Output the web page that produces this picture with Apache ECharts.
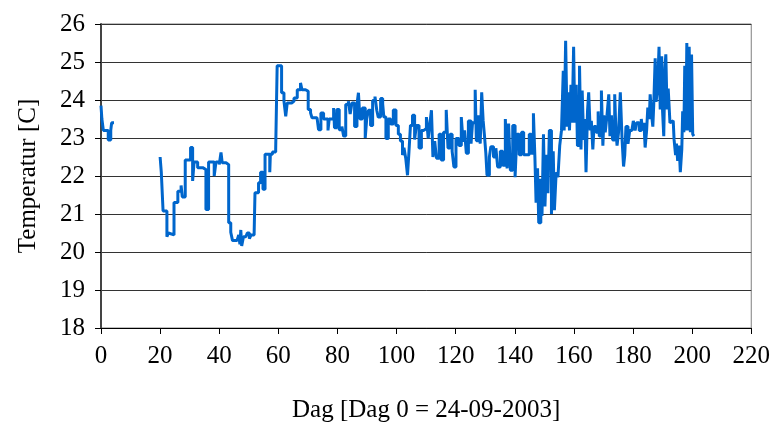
<!DOCTYPE html>
<html>
<head>
<meta charset="utf-8">
<script src="https://cdn.jsdelivr.net/npm/echarts@6/dist/echarts.min.js"></script>
<style>
  html, body { margin: 0; padding: 0; background: #fff; }
  #chart { width: 773px; height: 428px; }
</style>
</head>
<body>
<div id="chart"></div>
<script>
// dag sinds 24-09-2003, null in temp = geen meting
const dag = [
  0, 0.3, 0.8, 2.45, 3.3, 3.6, 4.4,
  4.45,
  20.0, 20.4, 21.0, 22.3, 22.8, 23.3, 24.7, 26.0, 27.1, 27.5, 28.5, 30.3,
  31.0, 31.5, 32.7, 34.4, 35.5, 36.4, 38.3, 38.9, 40.0, 40.6, 41.0, 42.3,
  43.2, 43.9, 44.5, 46.0, 46.6, 47.0, 47.3, 47.6, 48.2, 49.0, 49.5, 50.2,
  50.8, 51.8, 52.1, 53.3, 54.0, 54.8, 55.5, 57.1, 57.3, 58.0, 59.1, 59.6,
  61.1, 61.9, 62.5, 63.0, 64.5, 65.3, 66.4, 67.5, 68.0, 69.2, 70.1, 70.9,
  71.4, 73.1, 73.6, 74.4, 75.3, 76.8, 77.2, 78.7, 79.0, 79.8, 80.6, 81.5,
  82.1, 82.8, 83.7, 84.3, 84.9, 85.8, 86.6, 87.1, 87.6, 88.4, 89.4, 89.9,
  90.5, 91.2, 91.9, 92.7, 93.3, 93.8, 94.6, 95.3, 95.7, 96.4, 97.2, 98.0,
  98.9, 99.8, 100.6, 101.3, 102.0, 102.5, 103.1, 103.7, 104.2, 104.7, 105.4, 106.1,
  106.7, 107.6, 108.4, 109.2, 110.1, 110.7, 111.2, 111.8, 112.3, 112.9, 113.5, 114.4,
  115.1, 115.9, 116.8, 117.4, 118.1, 118.8, 119.4, 120.1, 121.1, 121.9, 122.5, 123.0,
  123.6, 124.3, 125.2, 125.7, 126.6, 127.0, 127.7, 128.3, 128.8, 129.3, 129.7, 130.2,
  130.6, 131.4, 131.9, 132.8, 133.6, 134.2, 135.1, 135.9, 136.8, 137.4, 137.9, 138.5,
  139.3, 140.1, 140.7, 141.5, 142.3, 143.0, 144.9, 145.6, 146.3, 146.8, 147.2, 147.7,
  148.1, 148.8, 149.2, 149.7, 150.2, 150.8, 151.2, 151.7, 152.4, 153.0, 153.4, 154.0,
  154.6, 155.2, 155.8, 156.4, 156.7, 157.2, 157.7, 158.1, 158.5, 159.0, 159.4, 159.9,
  160.3, 160.8, 161.2, 161.9, 162.4, 162.8, 163.3, 163.7, 164.1, 164.6, 165.0, 165.5,
  165.9, 166.4, 166.8, 167.5, 168.2, 168.6, 169.3, 169.8, 170.2, 170.6, 171.2, 171.8,
  172.2, 172.7, 173.1, 173.8, 174.2, 174.6, 175.1, 175.7, 176.3, 176.8, 177.2, 177.6,
  178.3, 178.9, 179.6, 180.1, 180.7, 181.2, 182.1, 182.8, 183.2, 183.7, 184.1, 184.6,
  185.0, 185.5, 185.8, 186.3, 186.7, 187.0, 187.5, 187.8, 188.3, 188.8, 189.2, 189.7,
  190.0, 190.4, 190.8, 191.1, 191.5, 191.9, 192.5, 193.0, 193.6, 193.9, 194.4, 194.7,
  195.1, 195.6, 196.0, 196.5, 196.8, 197.2, 197.5, 197.9, 198.2, 198.6, 199.0, 199.4,
  199.8, 200.2, 200.6
];
const temp = [
  23.85, 23.5, 23.2, 22.95, 23.2, 23.4, 23.4,
  null,
  22.5, 22.1, 21.08, 20.4, 20.5, 20.45, 21.3, 21.6, 21.75, 21.45, 22.42, 22.75,
  21.87, 22.37, 22.22, 22.17, 21.12, 22.37, 22.0, 22.37, 22.3, 22.62, 22.35, 22.3,
  20.77, 20.52, 20.3, 20.3, 20.45, 20.2, 20.58, 20.16, 20.4, 20.35, 20.5, 20.35,
  20.45, 20.4, 21.56, 21.82, 22.1, 21.65, 22.57, 22.1, 22.57, 22.63, 22.7, 24.9,
  24.19, 23.97, 23.57, 23.92, 23.97, 24.05, 24.27, 24.45, 24.27, 24.23, 23.75, 23.66,
  23.53, 23.5, 23.22, 23.66, 23.5, 23.2, 23.5, 23.79, 23.27, 23.75, 23.22, 23.3,
  23.05, 23.88, 23.97, 23.63, 23.92, 23.3, 23.88, 24.19, 23.5, 23.79, 23.0, 23.5,
  23.73, 23.33, 23.99, 24.09, 23.73, 23.55, 24.04, 23.9, 23.55, 22.99, 23.5, 23.37,
  23.74, 23.33, 23.1, 22.92, 22.55, 22.74, 22.47, 22.02, 22.65, 23.33, 23.6, 22.96,
  23.33, 22.74, 23.2, 23.25, 23.55, 22.99, 23.33, 23.73, 22.5, 22.92, 22.47, 23.1,
  22.42, 23.15, 23.74, 22.74, 23.1, 22.65, 22.24, 22.99, 22.8, 23.55, 22.9, 23.2,
  22.6, 23.45, 22.85, 23.4, 24.27, 22.93, 23.6, 22.85, 24.2, 23.45, 23.1, 22.6,
  22.02, 22.5, 22.77, 22.5, 22.73, 22.24, 22.65, 22.28, 23.5, 22.2, 23.38, 22.15,
  23.33, 21.97, 23.1, 22.56, 23.15, 22.56, 23.1, 22.6, 23.65, 22.5, 21.3, 22.2,
  20.77, 21.93, 20.95, 23.1, 21.2, 22.56, 21.55, 23.2, 21.0, 22.65, 21.1, 22.1,
  21.97, 22.8, 23.2, 24.77, 23.2, 25.56, 23.3, 24.2, 23.2, 24.4, 23.4, 25.4,
  23.4, 24.4, 22.8, 24.9, 22.7, 24.25, 22.95, 23.5, 22.1, 23.7, 24.2, 23.2,
  23.45, 22.7, 23.3, 23.15, 23.7, 23.05, 24.25, 22.8, 23.6, 23.15, 23.6, 24.15,
  23.05, 23.6, 22.95, 24.15, 23.2, 22.8, 23.15, 24.2, 22.95, 22.25, 22.55, 23.3,
  22.85, 23.2, 23.15, 23.45, 23.2, 23.4, 23.2, 23.5, 23.2, 23.4, 22.75, 23.2,
  23.8, 23.5, 24.15, 23.6, 23.3, 23.85, 25.1, 23.95, 24.3, 25.4, 23.75, 25.15,
  23.7, 23.05, 24.85, 25.2, 23.75, 24.3, 23.4, 23.45, 23.5, 22.95, 22.55, 22.85,
  22.4, 22.8, 22.1, 22.7, 23.7, 23.15, 24.9, 23.2, 25.5, 23.2, 25.4, 23.15,
  25.2, 23.1, 23.05
];

const xNaam = 'Dag [Dag 0 = 24-09-2003]';
const yNaam = 'Temperatur [C]';

let myChart = echarts.init(document.getElementById('chart'));
myChart.setOption({
  animation: false,
  textStyle: { fontFamily: 'Liberation Serif' },
  grid: {
    left: 101,
    right: 18,
    top: 24,
    bottom: 99,
    show: true,
    borderColor: '#7f7f7f',
    borderWidth: 1
  },
  xAxis: {
    type: 'value',
    min: 0,
    max: 220,
    interval: 20,
    name: xNaam,
    nameLocation: 'middle',
    nameGap: 70,
    nameTextStyle: { fontSize: 25, color: '#000', fontFamily: 'Liberation Serif' },
    axisLine: { lineStyle: { color: '#000', width: 1 } },
    axisTick: { length: 6, lineStyle: { color: '#000' } },
    axisLabel: { fontSize: 25, color: '#000', margin: 16 },
    splitLine: { show: false }
  },
  yAxis: {
    type: 'value',
    min: 18,
    max: 26,
    interval: 1,
    name: yNaam,
    nameLocation: 'middle',
    nameGap: 60,
    nameTextStyle: { fontSize: 25, color: '#000', fontFamily: 'Liberation Serif' },
    axisLine: { show: true, lineStyle: { color: '#444', width: 2 } },
    axisTick: { show: true, length: 6, lineStyle: { color: '#000' } },
    axisLabel: { fontSize: 25, color: '#000', margin: 16 },
    splitLine: { show: true, lineStyle: { color: '#333', width: 1 } }
  },
  series: [
    {
      type: 'line',
      data: dag.map((d, i) => [d, temp[i]]),
      step: 'end',
      showSymbol: false,
      connectNulls: false,
      lineStyle: { color: '#0066cc', width: 3 },
      itemStyle: { color: '#0066cc' }
    }
  ]
});
</script>
</body>
</html>
